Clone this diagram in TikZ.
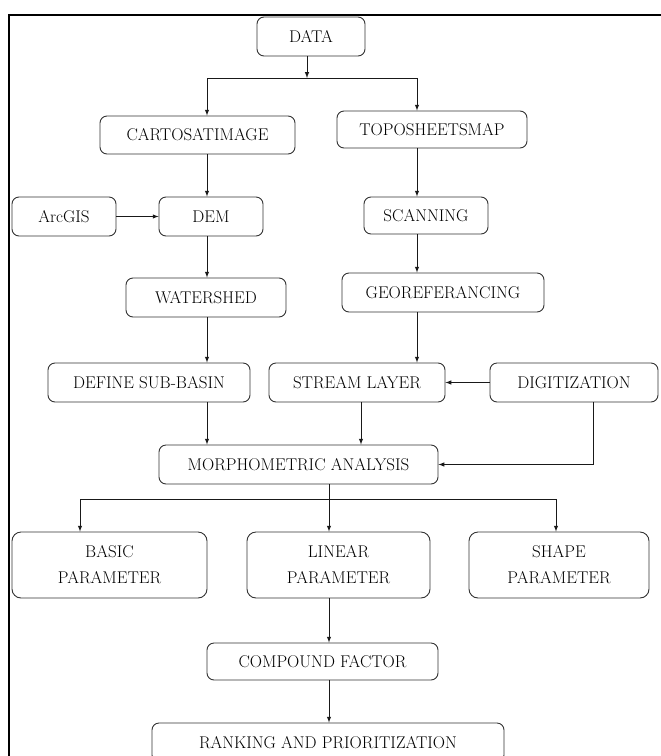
\documentclass[tikz,border=0pt]{standalone}
\usepackage{tikz}
\usetikzlibrary{positioning}

\tikzset{
  stage/.style={draw=black!80, line width=0.9pt, rounded corners=7pt, inner sep=0pt, minimum height=39pt,
    text=black, font=\fontsize{17}{26}\selectfont, align=center},
  arr/.style={-latex, line width=1pt, black!90},
}

\begin{document}
\begin{tikzpicture}[x=1pt, y=-1pt]
\clip (0,0) rectangle (661,756);
\draw[line width=2.8pt] (9,15) rectangle (680,780);

% columns of the vertical connectors
\coordinate (lcol) at (207,0);
\coordinate (rcol) at (417,0);
\coordinate (smid) at (361,0);
\coordinate (dcol) at (593,0);
\coordinate (bcol) at (80,0);
\coordinate (scol) at (556,0);
\coordinate (split) at (307,78);
\coordinate (fork) at (329,499);

\node[stage, minimum width=108pt] (data) at (311,36.5) {DATA};
\node[stage, minimum width=195pt, minimum height=38pt] (cartosat) at (197.5,135) {CARTOSATIMAGE};
\node[stage, minimum width=190pt, minimum height=37pt] (topo) at (432,129.5) {TOPOSHEETSMAP};
\node[stage, minimum width=104pt] (arcgis) at (64,216.5) {ArcGIS};
\node[stage, minimum width=104pt] (dem) at (211,216.5) {DEM};
\node[stage, minimum width=124pt, minimum height=37pt] (scan) at (426,215.5) {SCANNING};
\node[stage, minimum width=160pt] (watershed) at (206,297.5) {WATERSHED};
\node[stage, minimum width=202pt] (georef) at (443,292.5) {GEOREFERANCING};
\node[stage, minimum width=202pt] (subbasin) at (149,382.5) {DEFINE SUB-BASIN};
\node[stage, minimum width=176pt] (stream) at (357,382.5) {STREAM LAYER};
\node[stage, minimum width=168pt] (digit) at (574,382.5) {DIGITIZATION};
\node[stage, minimum width=279pt] (morph) at (298.5,464.5) {MORPHOMETRIC ANALYSIS};
\node[stage, minimum width=195pt, minimum height=66pt, rounded corners=9pt] (basicpar) at (109.5,565) {BASIC\\PARAMETER};
\node[stage, minimum width=183pt, minimum height=66pt, rounded corners=9pt] (linearpar) at (338.5,565) {LINEAR\\PARAMETER};
\node[stage, minimum width=180pt, minimum height=66pt, rounded corners=9pt] (shapepar) at (559,565) {SHAPE\\PARAMETER};
\node[stage, minimum width=231pt, minimum height=37pt] (compound) at (322.5,661.5) {COMPOUND FACTOR};
\node[stage, minimum width=352pt] (ranking) at (328,742.5) {RANKING AND PRIORITIZATION};

% data split
\draw[arr] (data.south -| split) -- (split);
\draw[arr] (split) -| (cartosat.north -| lcol);
\draw[arr] (split) -| (topo.north -| rcol);

% left branch
\draw[arr] (cartosat.south -| lcol) -- (dem.north -| lcol);
\draw[arr] (arcgis) -- (dem);
\draw[arr] (dem.south -| lcol) -- (watershed.north -| lcol);
\draw[arr] (watershed.south -| lcol) -- (subbasin.north -| lcol);
\draw[arr] (subbasin.south -| lcol) -- (morph.north -| lcol);

% right branch
\draw[arr] (topo.south -| rcol) -- (scan.north -| rcol);
\draw[arr] (scan.south -| rcol) -- (georef.north -| rcol);
\draw[arr] (georef.south -| rcol) -- (stream.north -| rcol);
\draw[arr] (digit) -- (stream);
\draw[arr] (stream.south -| smid) -- (morph.north -| smid);
\draw[arr] (digit.south -| dcol) |- (morph.east);

% parameters
\draw[line width=1pt, black!90] (morph.south -| fork) -- (fork);
\draw[arr] (fork) -| (basicpar.north -| bcol);
\draw[arr] (fork) -| (shapepar.north -| scol);
\draw[arr] (fork) -- (linearpar.north -| fork);
\draw[arr] (linearpar.south -| fork) -- (compound.north -| fork);
\draw[arr] (compound.south -| fork) -- (ranking.north -| fork);
\end{tikzpicture}
\end{document}
